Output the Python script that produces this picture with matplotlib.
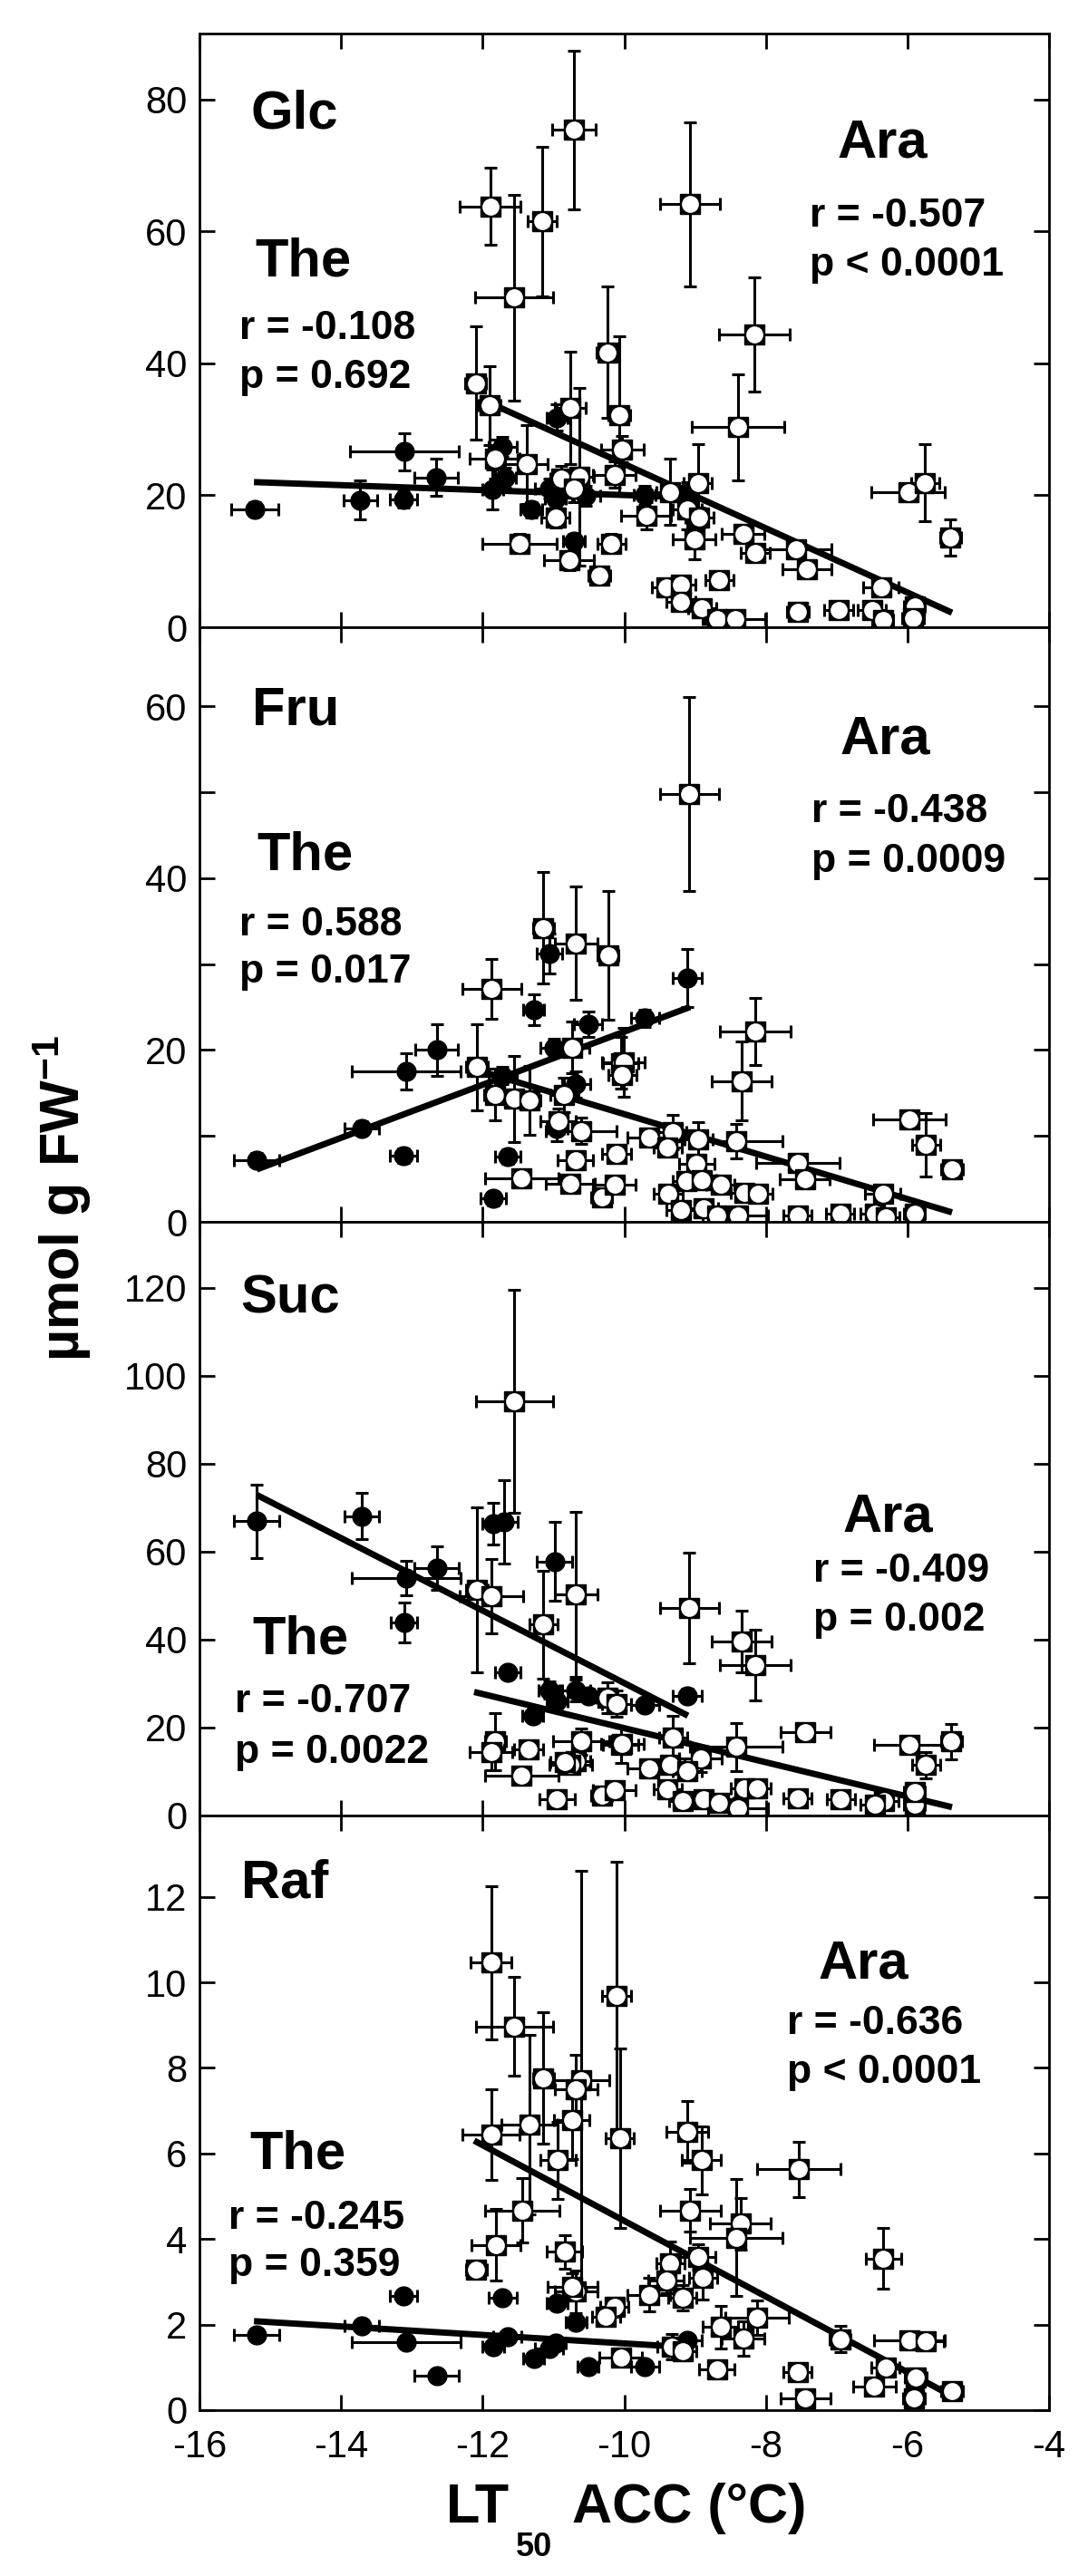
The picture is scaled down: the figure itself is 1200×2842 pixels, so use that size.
import numpy as np
import matplotlib
matplotlib.use('Agg')
import matplotlib.pyplot as plt

plt.rcParams['font.family'] = ['Liberation Sans', 'DejaVu Sans']
plt.rcParams['axes.unicode_minus'] = False
plt.rcParams['mathtext.fontset'] = 'custom'
plt.rcParams['mathtext.rm'] = 'Liberation Sans'
plt.rcParams['mathtext.bf'] = 'Liberation Sans:bold'
plt.rcParams['mathtext.it'] = 'Liberation Sans:italic'

# ---------------- data ----------------
x_ticks = [-16, -14, -12, -10, -8, -6, -4]
sugars = ['Glc', 'Fru', 'Suc', 'Raf']

# Glc
glc_the_x = [-15.22, -13.73, -13.11, -13.12, -12.66, -11.86, -11.72, -11.68, -11.31, -11.06, -10.97, -10.95, -10.71, -10.54, -9.71, -9.11]
glc_the_y = [17.9, 19.3, 26.6, 19.4, 22.7, 20.9, 27.4, 22.7, 17.8, 21.0, 19.5, 31.8, 13.0, 19.9, 20.0, 20.5]
glc_the_xe = [0.33, 0.24, 0.77, 0.19, 0.31, 0.15, 0.20, 0.15, 0.15, 0.20, 0.15, 0.15, 0.15, 0.20, 0.15, 0.15]
glc_the_ye = [1.0, 3.0, 2.8, 1.2, 2.8, 3.0, 1.5, 1.5, 1.2, 1.5, 1.5, 2.0, 1.2, 1.5, 1.5, 1.5]
glc_ara_x = [-11.89, -10.71, -11.16, -11.56, -12.10, -11.90, -10.76, -10.24, -10.07, -11.83, -11.38, -10.89, -10.63,
             -10.71, -10.14, -10.03, -10.97, -11.48, -10.18, -10.78, -10.35, -9.07, -8.16, -8.39, -9.35, -8.96,
             -9.69, -9.11, -8.94, -9.01, -8.32, -8.15, -7.57, -7.42, -8.66, -9.41, -9.20, -9.20, -8.90, -8.69,
             -8.43, -7.55, -6.97, -6.50, -6.35, -6.37, -5.90, -5.92, -5.99, -5.75, -5.39]
glc_ara_y = [63.8, 75.4, 61.5, 50.0, 37.0, 33.6, 33.3, 41.7, 32.1, 25.5, 24.7, 22.5, 22.8,
             21.0, 23.1, 27.0, 16.6, 12.7, 12.7, 10.1, 7.9, 64.1, 44.4, 30.3, 20.5, 21.8,
             16.9, 17.8, 16.6, 13.3, 14.2, 11.2, 11.8, 8.8, 7.2, 6.1, 6.4, 3.8, 2.9, 1.2,
             1.2, 2.3, 2.6, 2.6, 1.1, 6.1, 3.2, 1.4, 20.5, 21.9, 13.6]
glc_ara_xe = [0.43, 0.31, 0.21, 0.55, 0.15, 0.15, 0.22, 0.15, 0.15, 0.35, 0.30, 0.15, 0.20,
              0.15, 0.30, 0.30, 0.20, 0.52, 0.20, 0.35, 0.15, 0.42, 0.50, 0.65, 0.20, 0.20,
              0.35, 0.20, 0.20, 0.30, 0.30, 0.20, 0.50, 0.35, 0.20, 0.20, 0.20, 0.20, 0.20, 0.20,
              0.42, 0.15, 0.20, 0.20, 0.15, 0.25, 0.15, 0.15, 0.52, 0.20, 0.15]
glc_ara_ye = [5.8, 12.0, 11.3, 15.6, 8.6, 6.0, 8.5, 10.0, 12.0, 3.0, 6.0, 2.0, 13.5,
              2.0, 2.0, 2.0, 1.5, 1.5, 1.5, 1.5, 1.0, 12.4, 8.7, 8.0, 5.0, 6.0,
              2.0, 3.0, 1.5, 3.0, 1.0, 1.0, 1.0, 1.0, 1.0, 1.0, 1.0, 1.0, 1.0, 0.5,
              0.5, 0.5, 0.5, 0.5, 0.5, 1.0, 0.5, 0.5, 1.0, 5.8, 2.8]
glc_the_fit_x = [-15.23, -9.10]
glc_the_fit_y = [22.0, 19.7]
glc_ara_fit_x = [-11.90, -5.37]
glc_ara_fit_y = [34.0, 2.2]

# Fru
fru_the_x = [-15.19, -13.71, -13.08, -13.12, -12.65, -11.85, -11.65, -11.72, -11.28, -11.06, -10.99, -10.51, -10.68, -10.95, -9.71, -9.11]
fru_the_y = [7.2, 10.9, 17.5, 7.7, 20.0, 2.7, 7.6, 17.0, 24.7, 31.2, 20.3, 23.0, 16.0, 10.9, 23.7, 28.4]
fru_the_xe = [0.32, 0.24, 0.77, 0.19, 0.30, 0.18, 0.18, 0.20, 0.15, 0.18, 0.20, 0.20, 0.20, 0.15, 0.20, 0.20]
fru_the_ye = [0.8, 0.8, 2.1, 0.8, 3.0, 0.8, 0.8, 1.0, 1.8, 2.3, 1.0, 1.5, 1.5, 1.5, 1.0, 3.4]
fru_ara_x = [-11.14, -10.68, -10.23, -11.87, -12.08, -11.83, -11.55, -11.34, -10.74, -10.85, -10.93, -10.61, -10.69,
             -11.45, -10.76, -10.32, -10.14, -10.11, -10.05, -9.08, -10.01, -10.03, -8.15, -8.34, -9.65, -9.32,
             -9.39, -8.95, -8.42, -8.98, -9.38, -9.12, -8.90, -8.64, -8.30, -8.11, -9.20, -8.88, -8.69, -8.39,
             -7.55, -7.45, -7.55, -6.95, -6.35, -6.46, -6.31, -5.90, -5.97, -5.74, -5.37]
fru_ara_y = [34.2, 32.4, 31.0, 27.1, 18.0, 14.8, 14.3, 14.1, 20.3, 14.8, 11.7, 10.6, 7.2,
             5.1, 4.4, 2.9, 4.3, 7.9, 18.5, 49.8, 18.6, 17.1, 22.2, 16.4, 9.8, 10.4,
             8.6, 9.6, 9.4, 6.8, 3.3, 4.7, 4.9, 4.3, 3.4, 3.3, 1.4, 1.6, 0.7, 0.7,
             6.9, 5.0, 0.7, 1.0, 3.3, 0.9, 0.5, 1.0, 11.9, 9.0, 6.1]
fru_ara_xe = [0.15, 0.30, 0.15, 0.42, 0.15, 0.15, 0.15, 0.15, 0.25, 0.20, 0.25, 0.50, 0.25,
              0.52, 0.35, 0.15, 0.30, 0.20, 0.25, 0.42, 0.30, 0.20, 0.50, 0.42, 0.30, 0.20,
              0.20, 0.20, 0.65, 0.25, 0.20, 0.20, 0.20, 0.20, 0.20, 0.20, 0.20, 0.20, 0.20, 0.42,
              0.59, 0.35, 0.20, 0.20, 0.25, 0.20, 0.20, 0.15, 0.51, 0.20, 0.15]
fru_ara_ye = [6.5, 6.6, 7.5, 3.5, 5.0, 3.0, 5.0, 4.0, 3.0, 2.0, 1.5, 1.5, 1.0,
              1.0, 1.0, 0.5, 0.5, 1.0, 3.0, 11.3, 4.0, 1.0, 3.9, 4.6, 1.0, 2.0,
              1.0, 2.0, 2.0, 1.0, 0.5, 0.5, 0.5, 0.5, 0.5, 0.5, 0.5, 0.5, 0.3, 0.3,
              1.0, 0.5, 0.3, 0.3, 0.5, 0.3, 0.3, 0.3, 1.0, 3.7, 1.0]
fru_the_fit_x = [-15.19, -9.07]
fru_the_fit_y = [6.1, 25.0]
fru_ara_fit_x = [-11.93, -5.37]
fru_ara_fit_y = [17.3, 1.1]

# Suc
suc_the_x = [-15.19, -13.71, -13.08, -13.11, -12.65, -11.85, -11.70, -11.65, -10.98, -11.29, -11.06, -10.95, -10.68, -10.51, -9.71, -9.11]
suc_the_y = [66.9, 68.1, 54.0, 43.9, 56.3, 66.4, 66.8, 32.6, 57.8, 22.7, 28.5, 25.9, 28.5, 27.3, 25.1, 27.3]
suc_the_xe = [0.32, 0.24, 0.77, 0.19, 0.31, 0.15, 0.20, 0.18, 0.25, 0.15, 0.15, 0.15, 0.20, 0.15, 0.20, 0.20]
suc_the_ye = [8.3, 5.3, 4.0, 4.5, 5.0, 4.8, 9.4, 1.5, 9.0, 1.5, 2.0, 2.0, 2.5, 1.5, 1.5, 1.5]
suc_ara_x = [-11.55, -12.08, -11.88, -11.14, -10.68, -10.24, -10.11, -11.82, -11.88, -11.35, -11.45, -10.61, -10.68,
             -10.76, -10.84, -10.95, -10.32, -10.14, -10.05, -9.08, -8.34, -8.15, -10.03, -9.31, -8.92, -9.65,
             -9.35, -9.11, -9.39, -9.17, -8.88, -8.66, -8.39, -8.30, -8.13, -8.42, -7.44, -7.55, -6.94, -6.33,
             -6.46, -5.90, -5.90, -5.97, -5.74, -5.38]
suc_ara_y = [94.2, 51.3, 49.9, 43.4, 50.3, 26.8, 25.4, 16.8, 14.4, 15.1, 9.1, 16.8, 12.3,
             11.5, 12.2, 3.8, 4.5, 5.8, 16.0, 47.2, 39.6, 34.2, 16.3, 17.7, 12.9, 10.7,
             11.5, 10.1, 5.9, 3.4, 3.8, 2.9, 1.6, 6.2, 6.2, 15.6, 18.9, 4.0, 3.8, 3.4,
             2.4, 2.4, 5.3, 16.1, 11.5, 16.8]
suc_ara_xe = [0.54, 0.15, 0.45, 0.20, 0.30, 0.15, 0.20, 0.15, 0.30, 0.20, 0.52, 0.40, 0.20,
              0.30, 0.20, 0.25, 0.15, 0.30, 0.25, 0.42, 0.42, 0.50, 0.30, 0.20, 0.30, 0.30,
              0.20, 0.20, 0.20, 0.20, 0.20, 0.20, 0.42, 0.20, 0.20, 0.65, 0.35, 0.20, 0.20, 0.20,
              0.20, 0.15, 0.15, 0.50, 0.20, 0.15]
suc_ara_ye = [25.4, 18.8, 8.5, 12.2, 18.8, 3.5, 3.0, 6.5, 4.0, 2.0, 2.0, 3.0, 2.0,
              2.0, 2.0, 1.0, 1.0, 1.0, 4.0, 12.6, 7.0, 8.0, 2.0, 5.0, 3.0, 2.0,
              2.0, 2.0, 1.0, 1.0, 1.0, 1.0, 0.5, 1.0, 1.0, 5.5, 1.5, 1.0, 1.0, 1.0,
              0.5, 0.5, 1.0, 1.5, 3.0, 4.0]
suc_the_fit_x = [-15.19, -9.10]
suc_the_fit_y = [72.9, 22.7]
suc_ara_fit_x = [-12.12, -5.37]
suc_ara_fit_y = [28.1, 1.9]

# Raf
raf_the_x = [-15.19, -13.71, -13.12, -13.08, -12.65, -11.85, -11.65, -11.72, -11.28, -11.06, -10.97, -10.95, -10.68, -10.51, -9.71, -9.11]
raf_the_y = [1.75, 1.98, 2.68, 1.58, 0.81, 1.49, 1.72, 2.63, 1.21, 1.44, 1.56, 2.51, 2.05, 1.01, 1.01, 1.63]
raf_the_xe = [0.32, 0.24, 0.19, 0.77, 0.31, 0.15, 0.20, 0.20, 0.15, 0.20, 0.15, 0.15, 0.15, 0.15, 0.20, 0.20]
raf_the_ye = [0.10, 0.10, 0.10, 0.10, 0.10, 0.10, 0.10, 0.10, 0.10, 0.10, 0.10, 0.10, 0.10, 0.10, 0.10, 0.10]
raf_ara_x = [-11.88, -11.55, -11.14, -10.61, -10.68, -10.74, -11.34, -11.88, -10.94, -11.44, -11.81, -12.09, -10.84,
             -10.68, -10.73, -10.11, -10.06, -10.14, -10.26, -10.05, -9.11, -8.91, -9.07, -8.36, -8.42, -8.96,
             -9.35, -8.89, -9.41, -9.65, -9.18, -8.12, -8.64, -8.32, -9.33, -9.18, -8.69, -7.54, -6.95, -7.55,
             -7.44, -6.34, -6.31, -6.47, -5.97, -5.74, -5.88, -5.91, -5.37]
raf_ara_y = [10.46, 8.97, 7.76, 7.71, 7.50, 6.77, 6.68, 6.44, 5.84, 4.67, 3.86, 3.28, 3.70,
             2.77, 2.89, 9.68, 6.35, 2.42, 2.19, 1.23, 6.50, 5.84, 4.67, 4.36, 4.03, 3.58,
             3.44, 3.09, 3.03, 2.70, 2.63, 2.16, 1.94, 1.68, 1.49, 1.38, 0.95, 5.63, 1.66, 0.88,
             0.28, 3.54, 1.00, 0.56, 1.63, 1.60, 0.77, 0.28, 0.44]
raf_ara_xe = [0.29, 0.54, 0.15, 0.40, 0.30, 0.25, 0.40, 0.40, 0.25, 0.52, 0.35, 0.15, 0.25,
              0.30, 0.35, 0.20, 0.20, 0.20, 0.20, 0.30, 0.30, 0.28, 0.43, 0.43, 0.65, 0.25,
              0.20, 0.20, 0.25, 0.30, 0.20, 0.45, 0.25, 0.30, 0.20, 0.20, 0.25, 0.59, 0.15, 0.20,
              0.35, 0.25, 0.20, 0.30, 0.50, 0.25, 0.15, 0.15, 0.15]
raf_ara_ye = [1.79, 1.15, 1.54, 4.90, 0.80, 0.90, 2.10, 1.06, 0.90, 0.76, 0.84, 0.15, 0.40,
              0.50, 0.30, 3.14, 2.10, 0.20, 0.20, 0.15, 0.72, 0.80, 0.50, 0.60, 1.37, 0.30,
              0.50, 0.50, 0.30, 0.40, 0.30, 0.40, 0.50, 0.40, 0.30, 0.20, 0.15, 0.64, 0.30, 0.15,
              0.15, 0.71, 0.15, 0.15, 0.15, 0.20, 0.20, 0.15, 0.15]
raf_the_fit_x = [-15.23, -9.10]
raf_the_fit_y = [2.08, 1.47]
raf_ara_fit_x = [-12.12, -5.37]
raf_ara_fit_y = [6.30, 0.33]

y_limits = [90, 69.2, 135, 13.9]
y_major = [[0, 20, 40, 60, 80], [0, 20, 40, 60], [0, 20, 40, 60, 80, 100, 120], [0, 2, 4, 6, 8, 10, 12]]
y_minor = [[], [10, 30, 50], [], []]
the_r = ['r = -0.108', 'r = 0.588', 'r = -0.707', 'r = -0.245']
the_p = ['p = 0.692', 'p = 0.017', 'p = 0.0022', 'p = 0.359']
ara_r = ['r = -0.507', 'r = -0.438', 'r = -0.409', 'r = -0.636']
ara_p = ['p < 0.0001', 'p = 0.0009', 'p = 0.002', 'p < 0.0001']

panels = [
    (glc_the_x, glc_the_y, glc_the_xe, glc_the_ye, glc_ara_x, glc_ara_y, glc_ara_xe, glc_ara_ye,
     glc_the_fit_x, glc_the_fit_y, glc_ara_fit_x, glc_ara_fit_y),
    (fru_the_x, fru_the_y, fru_the_xe, fru_the_ye, fru_ara_x, fru_ara_y, fru_ara_xe, fru_ara_ye,
     fru_the_fit_x, fru_the_fit_y, fru_ara_fit_x, fru_ara_fit_y),
    (suc_the_x, suc_the_y, suc_the_xe, suc_the_ye, suc_ara_x, suc_ara_y, suc_ara_xe, suc_ara_ye,
     suc_the_fit_x, suc_the_fit_y, suc_ara_fit_x, suc_ara_fit_y),
    (raf_the_x, raf_the_y, raf_the_xe, raf_the_ye, raf_ara_x, raf_ara_y, raf_ara_xe, raf_ara_ye,
     raf_the_fit_x, raf_the_fit_y, raf_ara_fit_x, raf_ara_fit_y),
]

# ---------------- layout (text positions in axes fraction) ----------------
W, H = 1200, 2842
left_px, right_px = 220, 1157
bounds = [(37, 692), (692, 1348), (1348, 2003), (2003, 2659)]
name_pos = [(0.060, 0.841), (0.062, 0.836), (0.048, 0.847), (0.049, 0.862)]
the_pos = [(0.066, 0.592), (0.068, 0.592), (0.062, 0.273), (0.059, 0.406)]
the_r_pos = [(0.047, 0.486), (0.047, 0.481), (0.042, 0.174), (0.034, 0.305)]
the_p_pos = [(0.047, 0.403), (0.047, 0.403), (0.042, 0.089), (0.034, 0.225)]
ara_pos = [(0.751, 0.791), (0.754, 0.787), (0.757, 0.479), (0.728, 0.726)]
ara_r_pos = [(0.718, 0.675), (0.720, 0.673), (0.722, 0.394), (0.692, 0.632)]
ara_p_pos = [(0.718, 0.592), (0.720, 0.589), (0.722, 0.312), (0.692, 0.550)]

fig = plt.figure(figsize=(W / 100, H / 100), dpi=100)

LBL = 43
RP = 32
TICK = 30
ELW = 2.2
for i, (tx, ty, txe, tye, ax_, ay, axe, aye, tfx, tfy, afx, afy) in enumerate(panels):
    top, bot = bounds[i]
    ax = fig.add_axes([left_px / W, 1 - bot / H, (right_px - left_px) / W, (bot - top) / H])
    ax.set_xlim(-16, -4)
    ax.set_ylim(0, y_limits[i])
    ax.set_xticks(x_ticks)
    ax.set_yticks(y_major[i])
    ax.set_yticks(y_minor[i], minor=True)
    ax.tick_params(which='both', direction='in', top=True, right=True, length=12, width=2,
                   labelsize=TICK, pad=10)
    ax.tick_params(axis='x', pad=15)
    if i < 3:
        ax.tick_params(axis='x', labelbottom=False)
    for s in ax.spines.values():
        s.set_linewidth(2)

    # regression lines
    ax.plot(tfx, tfy, color='black', lw=5, solid_capstyle='butt', zorder=2)
    ax.plot(afx, afy, color='black', lw=5, solid_capstyle='butt', zorder=2)

    # The (filled)
    ax.errorbar(tx, ty, xerr=txe, yerr=tye, fmt='none', ecolor='black', elinewidth=ELW,
                capsize=5, capthick=ELW, zorder=1.5)
    ax.plot(tx, ty, 'o', ms=15, color='black', mec='black', zorder=3)

    # Ara (open)
    ax.errorbar(ax_, ay, xerr=axe, yerr=aye, fmt='none', ecolor='black', elinewidth=ELW,
                capsize=5, capthick=ELW, zorder=1.5)
    for k in range(len(ax_)):
        z = 4 + k * 0.01
        ax.plot([ax_[k]], [ay[k]], 's', ms=16, color='black', mec='black', zorder=z)
        ax.plot([ax_[k]], [ay[k]], 'o', ms=13.5, color='white', mec='none', zorder=z + 0.005)

    tr = ax.transAxes
    ax.text(*name_pos[i], sugars[i], transform=tr, fontsize=LBL, fontweight='bold', ha='left', va='baseline', zorder=10)
    ax.text(*the_pos[i], 'The', transform=tr, fontsize=LBL, fontweight='bold', ha='left', va='baseline', zorder=10)
    ax.text(*the_r_pos[i], the_r[i], transform=tr, fontsize=RP, fontweight='bold', ha='left', va='baseline', zorder=10)
    ax.text(*the_p_pos[i], the_p[i], transform=tr, fontsize=RP, fontweight='bold', ha='left', va='baseline', zorder=10)
    ax.text(*ara_pos[i], 'Ara', transform=tr, fontsize=LBL, fontweight='bold', ha='left', va='baseline', zorder=10)
    ax.text(*ara_r_pos[i], ara_r[i], transform=tr, fontsize=RP, fontweight='bold', ha='left', va='baseline', zorder=10)
    ax.text(*ara_p_pos[i], ara_p[i], transform=tr, fontsize=RP, fontweight='bold', ha='left', va='baseline', zorder=10)

# axis labels
fig.text(88 / W, 1 - 1502 / H, r'$\mathbf{µmol\ g\ FW^{-1}}$', rotation=90, rotation_mode='anchor',
         fontsize=44, ha='left', va='baseline')
fig.text(492 / W, 1 - 2783 / H, 'LT', fontsize=44, fontweight='bold', ha='left', va='baseline')
fig.text(569 / W, 1 - 2820 / H, '50', fontsize=26, fontweight='bold', ha='left', va='baseline')
fig.text(631 / W, 1 - 2783 / H, 'ACC (°C)', fontsize=44, fontweight='bold', ha='left', va='baseline')

fig.savefig('out.png', dpi=100)
